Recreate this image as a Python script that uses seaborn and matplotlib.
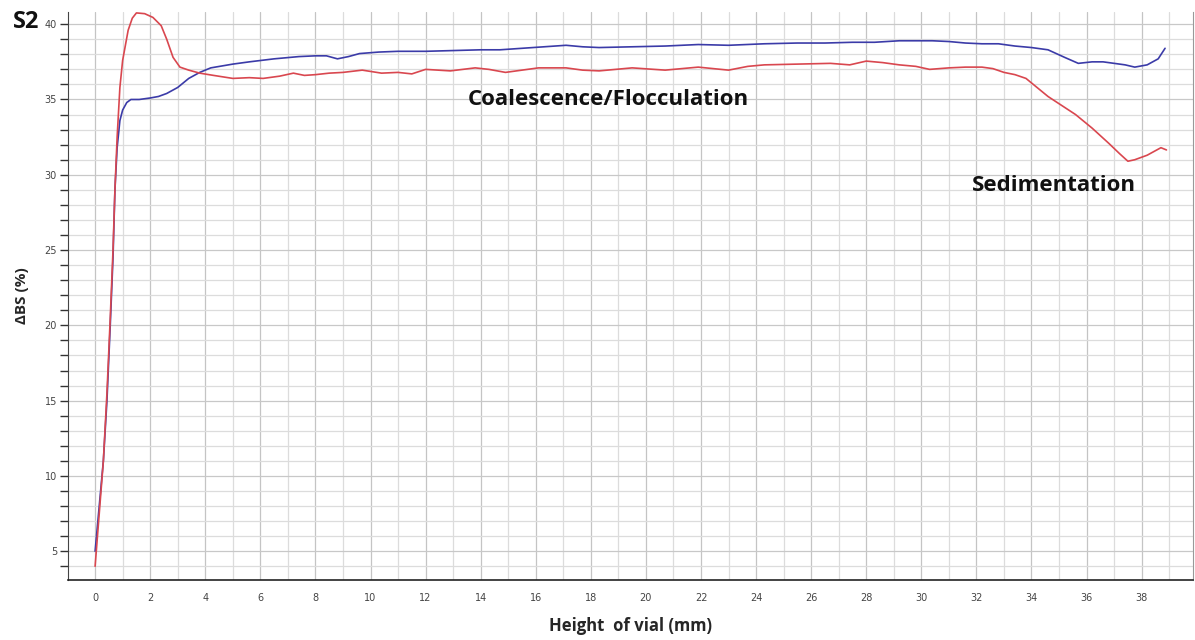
import numpy as np
import pandas as pd
import matplotlib
matplotlib.use("Agg")
import matplotlib.pyplot as plt
import seaborn as sns
from matplotlib.ticker import MultipleLocator

# blue curve
blue_x = [0.0, 0.15, 0.3, 0.43, 0.55, 0.65, 0.72, 0.8, 0.9, 1.0, 1.15, 1.3, 1.6, 2.0, 2.3,
          2.6, 3.0, 3.4, 3.8, 4.2, 5.0, 5.6, 6.5, 7.4, 8.0, 8.4, 8.8, 9.2, 9.6, 10.3, 11.0,
          12.0, 13.0, 14.0, 14.7, 15.5, 16.3, 17.1, 17.7, 18.3, 19.5, 20.7, 21.9, 23.0, 24.3,
          25.5, 26.5, 27.5, 28.3, 29.2, 30.4, 31.0, 31.6, 32.2, 32.8, 33.4, 34.0, 34.6, 35.2,
          35.7, 36.2, 36.6, 37.0, 37.4, 37.75, 38.2, 38.6, 38.85]
blue_y = [5.0, 8.0, 11.0, 15.0, 20.0, 24.5, 29.0, 31.8, 33.6, 34.3, 34.8, 35.0, 35.0, 35.1, 35.2,
          35.4, 35.8, 36.4, 36.8, 37.1, 37.35, 37.5, 37.7, 37.85, 37.9, 37.9, 37.7, 37.85, 38.05, 38.15, 38.2,
          38.2, 38.25, 38.3, 38.3, 38.4, 38.5, 38.6, 38.5, 38.45, 38.5, 38.55, 38.65, 38.6, 38.7,
          38.75, 38.75, 38.8, 38.8, 38.9, 38.9, 38.85, 38.75, 38.7, 38.7, 38.55, 38.45, 38.3, 37.8,
          37.4, 37.5, 37.5, 37.4, 37.3, 37.15, 37.3, 37.7, 38.4]

# red curve
red_x = [0.0, 0.15, 0.3, 0.43, 0.55, 0.65, 0.72, 0.8, 0.9, 1.0, 1.09, 1.2, 1.35, 1.5, 1.8, 2.1,
         2.4, 2.6, 2.83, 3.08, 3.4, 3.8, 4.3, 5.0, 5.6, 6.1, 6.7, 7.2, 7.6, 8.0, 8.5, 9.0, 9.7,
         10.4, 11.0, 11.5, 12.0, 12.9, 13.8, 14.3, 14.9, 15.5, 16.1, 17.1, 17.7, 18.3, 19.5,
         20.7, 21.9, 23.0, 23.7, 24.3, 25.5, 26.7, 27.4, 28.0, 28.6, 29.2, 29.8, 30.3, 31.0,
         31.6, 32.2, 32.6, 33.0, 33.4, 33.8, 34.2, 34.6, 35.1, 35.6, 36.2, 36.8, 37.2, 37.5,
         37.75, 38.2, 38.7, 38.9]
red_y = [4.0, 7.5, 11.0, 15.5, 20.5, 25.0, 29.0, 32.5, 35.8, 37.6, 38.5, 39.6, 40.4, 40.75, 40.7, 40.45,
         39.9, 39.0, 37.8, 37.15, 36.95, 36.75, 36.6, 36.4, 36.45, 36.4, 36.55, 36.75, 36.6, 36.65, 36.75, 36.8, 36.95,
         36.75, 36.8, 36.7, 37.0, 36.9, 37.1, 37.0, 36.8, 36.95, 37.1, 37.1, 36.95, 36.9, 37.1,
         36.95, 37.15, 36.95, 37.2, 37.3, 37.35, 37.4, 37.3, 37.55, 37.45, 37.3, 37.2, 37.0, 37.1,
         37.15, 37.15, 37.05, 36.8, 36.65, 36.4, 35.8, 35.2, 34.6, 34.0, 33.1, 32.1, 31.4, 30.9,
         31.0, 31.3, 31.8, 31.65]

df_blue = pd.DataFrame({"x": blue_x, "y": blue_y})
df_red = pd.DataFrame({"x": red_x, "y": red_y})

sns.set_style("white")
bold_font = ["Open Sans", "DejaVu Sans"]

fig = plt.figure(figsize=(11.95, 6.4), dpi=100)
ax = fig.add_axes([0.057, 0.094, 0.941, 0.887])

sns.lineplot(data=df_blue, x="x", y="y", ax=ax, color="#3b3ba8", linewidth=1.2, sort=False)
sns.lineplot(data=df_red, x="x", y="y", ax=ax, color="#d9474f", linewidth=1.2, sort=False)

ax.set_xlim(-0.98, 39.85)
ax.set_ylim(3.1, 40.8)

ax.xaxis.set_major_locator(MultipleLocator(2))
ax.xaxis.set_minor_locator(MultipleLocator(0.5))
ax.yaxis.set_major_locator(MultipleLocator(5))
ax.yaxis.set_minor_locator(MultipleLocator(1))

# grid: every 1 mm vertically, every 1 % horizontally
for gx in np.arange(0, 40, 1):
    ax.axvline(gx, color="#c4c4c4" if gx % 2 == 0 else "#dcdcdc", lw=0.9, zorder=0)
for gy in np.arange(4, 41, 1):
    ax.axhline(gy, color="#c8c8c8" if gy % 5 == 0 else "#dcdcdc", lw=0.9, zorder=0)

ax.tick_params(axis="x", which="major", direction="inout", length=11, width=1.0, color="#222222",
               labelsize=7, labelcolor="#444444", pad=4)
ax.tick_params(axis="x", which="minor", direction="inout", length=7, width=1.0, color="#222222")
ax.tick_params(axis="y", which="major", direction="out", length=6, width=1.0, color="#333333",
               labelsize=7, labelcolor="#444444", pad=2, left=True)
ax.tick_params(axis="y", which="minor", direction="out", length=6, width=1.0, color="#333333", left=True)

ax.spines["top"].set_visible(False)
ax.spines["right"].set_color("#999999")
ax.spines["left"].set_color("#444444")
ax.spines["bottom"].set_color("#222222")
ax.spines["bottom"].set_linewidth(1.2)

ax.set_xlabel("Height  of vial (mm)", fontsize=12, fontweight="bold", family=bold_font, labelpad=10)
ax.set_ylabel("ΔBS (%)", fontsize=11, fontweight="bold", family=bold_font, labelpad=11)

ax.text(18.65, 35.0, "Coalescence/Flocculation", fontsize=16, fontweight="bold",
        family=bold_font, ha="center", va="center", color="#111111")
ax.text(34.8, 29.3, "Sedimentation", fontsize=16, fontweight="bold",
        family=bold_font, ha="center", va="center", color="#111111")
fig.text(0.011, 0.966, "S2", fontsize=17, fontweight="bold", family=bold_font,
         ha="left", va="center", color="#111111")

fig.savefig("out.png", dpi=100, facecolor="white")
